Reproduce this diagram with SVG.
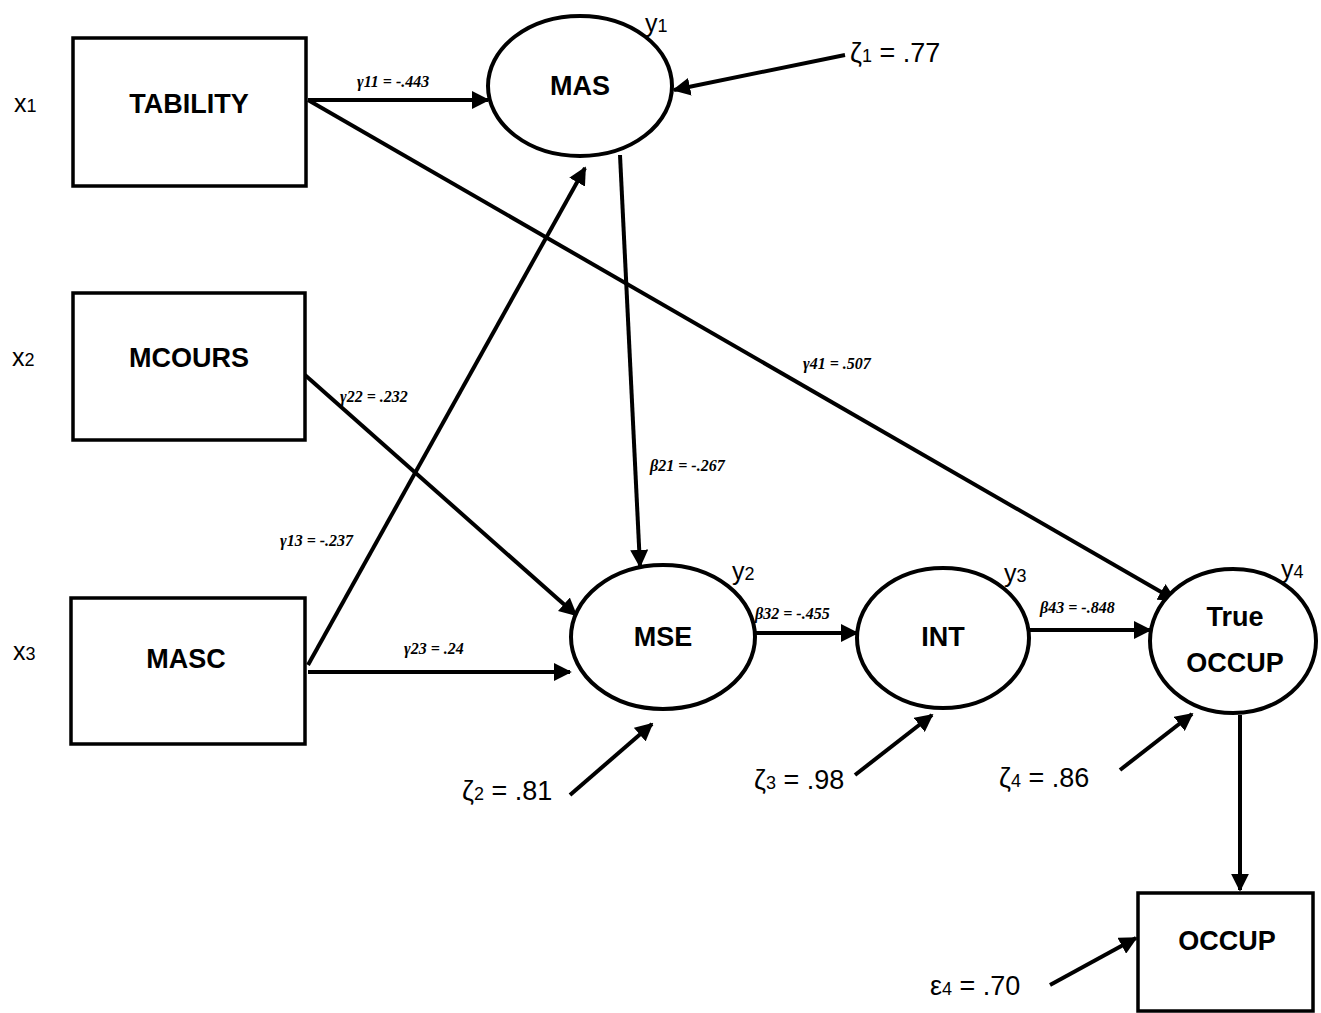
<svg xmlns="http://www.w3.org/2000/svg" width="1321" height="1013" viewBox="0 0 1321 1013">
<style>
.box{fill:#fff;stroke:#000;stroke-width:3.5}
.ell{fill:#fff;stroke:#000;stroke-width:4}
.nl{font-family:"Liberation Sans",Arial,sans-serif;font-weight:bold;font-size:27px;text-anchor:middle}
.var{font-family:"Liberation Sans",Arial,sans-serif;font-size:25px}
.coef{font-family:"Liberation Serif","Times New Roman",serif;font-style:italic;font-weight:bold;font-size:16px}
.err{font-family:"Liberation Sans",Arial,sans-serif;font-size:27px}
.s{font-size:18px}
.c{stroke:#000;stroke-width:4;fill:none;marker-end:url(#ah)}
</style>
<defs>
<marker id="ah" viewBox="0 0 10 10" refX="9" refY="5" markerWidth="4.5" markerHeight="4.5" orient="auto" markerUnits="strokeWidth">
<path d="M0,0 L10,5 L0,10 z" fill="#000"/>
</marker>
</defs>
<rect width="1321" height="1013" fill="#fff"/>
<g id="connectors">
<line class="c" x1="308" y1="100" x2="488" y2="100"/>
<line class="c" x1="845" y1="55" x2="674" y2="90"/>
<line class="c" x1="308" y1="100" x2="1175" y2="600"/>
<line class="c" x1="620" y1="155" x2="640" y2="566"/>
<line class="c" x1="308" y1="665" x2="585" y2="168"/>
<line class="c" x1="305" y1="375" x2="576" y2="615"/>
<line class="c" x1="308" y1="672" x2="570" y2="672"/>
<line class="c" x1="755" y1="633" x2="857" y2="633"/>
<line class="c" x1="1030" y1="630" x2="1150" y2="630"/>
<line class="c" x1="570" y1="795" x2="652" y2="724"/>
<line class="c" x1="855" y1="775" x2="932" y2="715"/>
<line class="c" x1="1120" y1="770" x2="1192" y2="714"/>
<line class="c" x1="1240" y1="715" x2="1240" y2="890"/>
<line class="c" x1="1050" y1="985" x2="1136" y2="938"/>
<text class="coef" x="357" y="87">γ11 = -.443</text>
<text class="coef" x="803" y="369">γ41 = .507</text>
<text class="coef" x="340" y="402">γ22 = .232</text>
<text class="coef" x="280" y="546">γ13 = -.237</text>
<text class="coef" x="404" y="654">γ23 = .24</text>
<text class="coef" x="650" y="471">β21 = -.267</text>
<text class="coef" x="755" y="619">β32 = -.455</text>
<text class="coef" x="1040" y="613">β43 = -.848</text>
</g>
<g id="TABILITY"><rect class="box" x="73" y="38" width="233" height="148"/><text class="nl" x="189" y="113">TABILITY</text><text class="var" x="14" y="112">x<tspan class="s">1</tspan></text></g>
<g id="MCOURS"><rect class="box" x="73" y="293" width="232" height="147"/><text class="nl" x="189" y="367">MCOURS</text><text class="var" x="12" y="366">x<tspan class="s">2</tspan></text></g>
<g id="MASC"><rect class="box" x="71" y="598" width="234" height="146"/><text class="nl" x="186" y="668">MASC</text><text class="var" x="13" y="660">x<tspan class="s">3</tspan></text></g>
<g id="OCCUP"><rect class="box" x="1138" y="893" width="175" height="118"/><text class="nl" x="1227" y="950">OCCUP</text></g>
<g id="MAS"><ellipse class="ell" cx="580" cy="86" rx="92" ry="70"/><text class="nl" x="580" y="95">MAS</text><text class="var" x="645" y="32">y<tspan class="s">1</tspan></text></g>
<g id="MSE"><ellipse class="ell" cx="663" cy="637" rx="92" ry="72"/><text class="nl" x="663" y="646">MSE</text><text class="var" x="732" y="580">y<tspan class="s">2</tspan></text></g>
<g id="INT"><ellipse class="ell" cx="943" cy="638" rx="86" ry="70"/><text class="nl" x="943" y="646">INT</text><text class="var" x="1004" y="582">y<tspan class="s">3</tspan></text></g>
<g id="TrueOCCUP"><ellipse class="ell" cx="1233" cy="641" rx="83" ry="72"/><text class="nl" x="1235" y="626">True</text><text class="nl" x="1235" y="672">OCCUP</text><text class="var" x="1281" y="578">y<tspan class="s">4</tspan></text></g>
<g id="errors">
<text class="err" x="850" y="62">ζ<tspan class="s">1</tspan> = .77</text>
<text class="err" x="462" y="800">ζ<tspan class="s">2</tspan> = .81</text>
<text class="err" x="754" y="789">ζ<tspan class="s">3</tspan> = .98</text>
<text class="err" x="999" y="787">ζ<tspan class="s">4</tspan> = .86</text>
<text class="err" x="930" y="995">ε<tspan class="s">4</tspan> = .70</text>
</g>
</svg>
